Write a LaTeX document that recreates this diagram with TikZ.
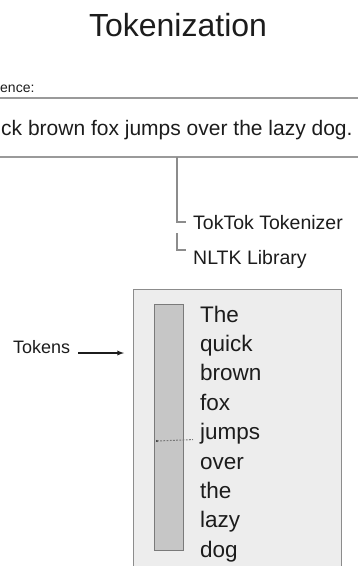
\documentclass[tikz,border=0pt]{standalone}
\usepackage{fontspec}
\setmainfont{Liberation Sans}
\usetikzlibrary{arrows}
\definecolor{ink}{HTML}{1C1C1C}
\definecolor{rulegray}{HTML}{9A9A9A}
\definecolor{boxfill}{HTML}{EDEDED}
\definecolor{boxline}{HTML}{8C8C8C}
\definecolor{barfill}{HTML}{C6C6C6}
\definecolor{barline}{HTML}{7A7A7A}
\tikzset{word/.style={anchor=base west, inner sep=0pt, text=ink, font=\fontsize{22.5}{26}\selectfont},
  label/.style={anchor=base west, inner sep=0pt, text=ink, font=\fontsize{19.5}{23}\selectfont},
  rule/.style={draw=rulegray, line width=1.3pt},
  branch/.style={draw=boxline, line width=1.3pt}}

\begin{document}
\begin{tikzpicture}[x=1pt,y=-1pt]
\useasboundingbox (0,0) rectangle (358,566);

\node[inner sep=0pt, anchor=base, text=ink, font=\fontsize{32}{38}\selectfont] (title) at (178,36) {Tokenization};
\node[inner sep=0pt, anchor=base west, text=ink, font=\fontsize{14}{17}\selectfont] (sent) at (0,92) {ence:};
\node[inner sep=0pt, anchor=base west, text=ink, font=\fontsize{21}{25}\selectfont] (line) at (1,135) {ck brown fox jumps over the lazy dog.};

\coordinate (r1a) at (0,98);
\coordinate (r1b) at (358,98);
\coordinate (r2a) at (0,157);
\coordinate (r2b) at (358,157);
\draw[rule] (r1a) -- (r1b);
\draw[rule] (r2a) -- (r2b);

\node[label] (toktok) at (193,229) {TokTok Tokenizer};
\node[label] (nltk) at (193,264) {NLTK Library};
\coordinate (b1) at (177,157);
\coordinate (c1) at (186,222);
\coordinate (b2) at (177,233);
\coordinate (c2) at (186,250);
\draw[branch] (b1) |- (c1);
\draw[branch] (b2) |- (c2);

\node[draw=boxline, fill=boxfill, line width=1pt, anchor=north west, inner sep=0pt,
  minimum width=208pt, minimum height=300pt] (box) at (133,289) {};
\node[draw=barline, fill=barfill, line width=1pt, anchor=north west, inner sep=0pt,
  minimum width=29pt, minimum height=246pt] (bar) at (154,304) {};

\foreach \w [count=\i from 0] in {The,quick,brown,fox,jumps,over,the,lazy,dog}
  \node[word] (w\i) at (200,322+29.4*\i) {\w};

\coordinate (dot) at (157,441);
\fill[ink] (dot) circle (1.2pt);
\draw[ink!60, dash pattern=on 1.8pt off 1.4pt, line width=1pt] (dot) -- ([xshift=-7pt]w4.base west);

\node[inner sep=0pt, anchor=base west, text=ink, font=\fontsize{18}{22}\selectfont] (tokens) at (13,353) {Tokens};
\draw[ink, line width=1.3pt, -latex] ([xshift=8pt]tokens.base east) -- ([xshift=-9pt]tokens.base east -| box.west);
\end{tikzpicture}
\end{document}
